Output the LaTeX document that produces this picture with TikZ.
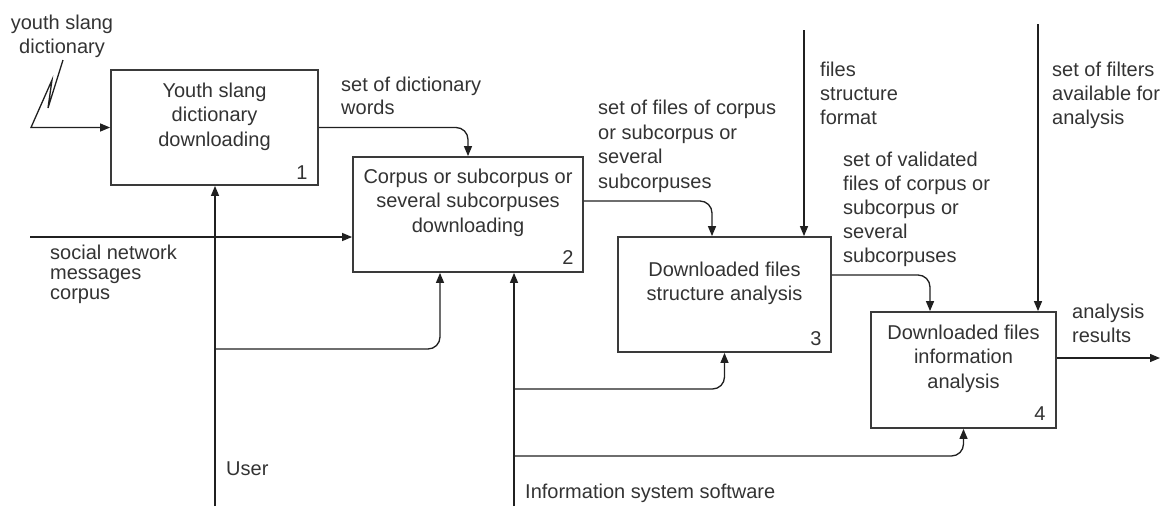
\documentclass[tikz,border=0pt]{standalone}
\usepackage{fontspec}
\setmainfont{Liberation Sans}
\usetikzlibrary{arrows.meta}
\definecolor{boxc}{HTML}{3A3A3A}
\definecolor{linec}{HTML}{202020}
\definecolor{txtc}{HTML}{333333}
\tikzset{
  box/.style={draw=boxc, line width=1.8pt, fill=white, inner sep=0pt},
  line/.style={draw=linec, line width=1.3pt, rounded corners=12pt},
  arr/.style={line, -{Triangle[length=10pt,width=8pt]}},
  lbl/.style={text=txtc, inner sep=0pt, anchor=north west, align=left, font=\fontsize{20}{24}\selectfont},
  btxt/.style={text=txtc, inner sep=0pt, anchor=north, align=center, font=\fontsize{20}{24.2}\selectfont},
  num/.style={text=txtc, inner sep=0pt, font=\fontsize{20}{24}\selectfont},
}
\begin{document}
\begin{tikzpicture}[x=1pt,y=-1pt]
\useasboundingbox (0,0) rectangle (1161,506);
% boxes
\node[box, minimum width=207pt, minimum height=115pt] (b1) at (214.5,127.5) {};
\node[box, minimum width=230pt, minimum height=115pt] (b2) at (468,214.5) {};
\node[box, minimum width=213pt, minimum height=115pt] (b3) at (724.5,294.5) {};
\node[box, minimum width=185pt, minimum height=116pt] (b4) at (963.5,370) {};
% box texts
\node[btxt] (t1) at (214.5,83) {Youth slang\\dictionary\\downloading};
\node[btxt] (t2) at (468,169) {Corpus or subcorpus or\\several subcorpuses\\downloading};
\node[btxt] (t3) at (724.5,262) {Downloaded files\\structure analysis};
\node[btxt] (t4) at (963.5,325) {Downloaded files\\information\\analysis};
\node[num] (n1) at (302,173) {1};
\node[num] (n2) at (568,258) {2};
\node[num] (n3) at (816,339) {3};
\node[num] (n4) at (1040,414) {4};
% free ends
\coordinate (din) at (63,60);
\coordinate (sin) at (30,237);
\coordinate (out) at (1160,358);
\coordinate (c3) at (804,30);
\coordinate (c4) at (1038,24);
\coordinate (m1) at (215,506);
\coordinate (m1b) at (215,349);
\coordinate (m2) at (514,506);
\coordinate (m2a) at (514,389);
\coordinate (m2b) at (514,456);
% connectors
\draw[arr, rounded corners=0pt] (din) -- (48,108) -- (52,80) -- (31,127.5) -- (b1.west);
\draw[arr] (b1.east) -| (b2.north);
\draw[arr] (sin) -- ([yshift=-22.5pt]b2.west);
\draw[arr] ([yshift=13.5pt]b2.east) -| ([xshift=-12.5pt]b3.north);
\draw[arr] ([yshift=19.5pt]b3.east) -| ([xshift=-33.5pt]b4.north);
\draw[arr] ([yshift=12pt]b4.east) -- (out);
\draw[arr] (c3) -- (c3 |- b3.north);
\draw[arr] (c4) -- (c4 |- b4.north);
\draw[arr] (m1) -- (m1 |- b1.south);
\draw[arr] (m1b) -| ([xshift=-28pt]b2.south);
\draw[arr] (m2) -- (m2 |- b2.south);
\draw[arr] (m2a) -| (b3.south);
\draw[arr] (m2b) -| (b4.south);
% labels
\node[lbl, anchor=north, align=center] (l1) at (62,15) {youth slang\\dictionary};
\node[lbl, font=\fontsize{20}{23}\selectfont] (l2) at (341,77) {set of dictionary\\words};
\node[lbl, font=\fontsize{20}{20}\selectfont] (l3) at (50,245) {social network\\messages\\corpus};
\node[lbl, font=\fontsize{20}{24.5}\selectfont] (l4) at (598,100) {set of files of corpus\\or subcorpus or\\several\\subcorpuses};
\node[lbl] (l5) at (820,62) {files\\structure\\format};
\node[lbl] (l6) at (843,152) {set of validated\\files of corpus or\\subcorpus or\\several\\subcorpuses};
\node[lbl] (l7) at (1052,62) {set of filters\\available for\\analysis};
\node[lbl] (l8) at (1072,304) {analysis\\results};
\node[lbl] (l9) at (226,462) {User};
\node[lbl] (l10) at (525,484) {Information system software};
\end{tikzpicture}
\end{document}
